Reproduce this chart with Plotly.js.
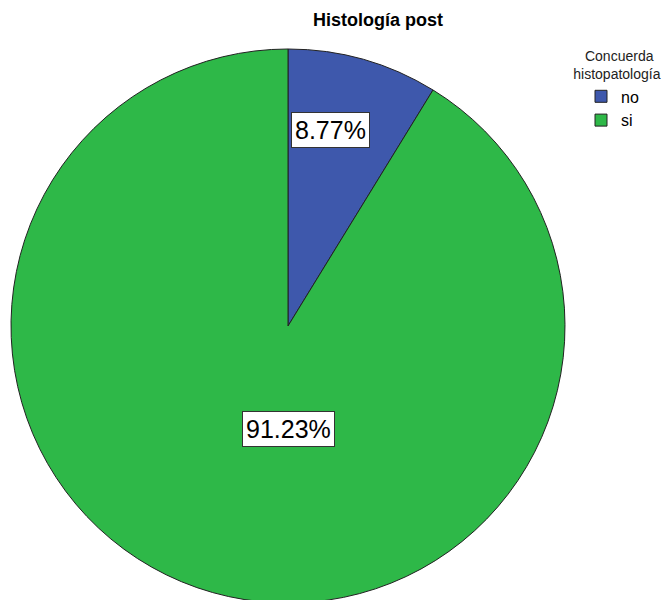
<!DOCTYPE html>
<html>
<head>
<meta charset="utf-8">
<script src="https://cdn.plot.ly/plotly-3.0.1.min.js"></script>
<style>
html, body { margin: 0; padding: 0; overflow: hidden; background: #fff; }
#chart { width: 670px; height: 603px; }
</style>
</head>
<body>
<div id="chart"></div>
<script>
// Data
const categories = ['no', 'si'];
const values = [8.77, 91.23];
const colors = ['#3E58AC', '#2EB848'];
const chartTitle = 'Histología post';
const legendTitle = '&nbsp;&nbsp;&nbsp;Concuerda<br>histopatología';

// Label placement (layout, paper coords)
const labelX = [0.4933, 0.4299];
const labelY = [0.7836, 0.289];

const total = values.reduce((a, b) => a + b, 0);
const labelTexts = values.map(v => (v / total * 100).toFixed(2) + '%');

const trace = {
  type: 'pie',
  labels: categories,
  values: values,
  sort: false,
  direction: 'clockwise',
  rotation: 0,
  textinfo: 'none',
  hoverinfo: 'label+percent',
  marker: { colors: colors, line: { color: '#222222', width: 1 } },
  domain: { x: [11 / 670, 565 / 670], y: [0, 554 / 603] }
};

const annotations = labelTexts.map((t, i) => ({
  xref: 'paper', yref: 'paper',
  x: labelX[i], y: labelY[i],
  xanchor: 'center', yanchor: 'middle',
  text: t, showarrow: false,
  font: { family: 'Liberation Sans, Arial, sans-serif', size: 25, color: '#000' },
  bgcolor: '#ffffff', bordercolor: '#333333', borderwidth: 1, borderpad: 3
}));

const layout = {
  width: 670, height: 603,
  margin: { l: 0, r: 0, t: 0, b: 0 },
  paper_bgcolor: '#fff',
  title: {
    text: '<b>' + chartTitle + '</b>',
    font: { family: 'Liberation Sans, Arial, sans-serif', size: 18, color: '#000' },
    x: 378 / 670, xanchor: 'center',
    y: 1 - 20 / 603, yanchor: 'middle', xref: 'paper', yref: 'container'
  },
  showlegend: true,
  legend: {
    x: 571 / 670, xanchor: 'left',
    y: 1 - 43 / 603, yanchor: 'top',
    title: { text: legendTitle, side: 'top center', font: { family: 'Liberation Sans, Arial, sans-serif', size: 14, color: '#222' } },
    font: { family: 'Liberation Sans, Arial, sans-serif', size: 16, color: '#000' },
    tracegroupgap: 0, itemwidth: 30, indentation: 10,
    bgcolor: 'rgba(0,0,0,0)'
  },
  annotations: annotations
};

Plotly.newPlot('chart', [trace], layout, { displayModeBar: false, staticPlot: true });
</script>
</body>
</html>
